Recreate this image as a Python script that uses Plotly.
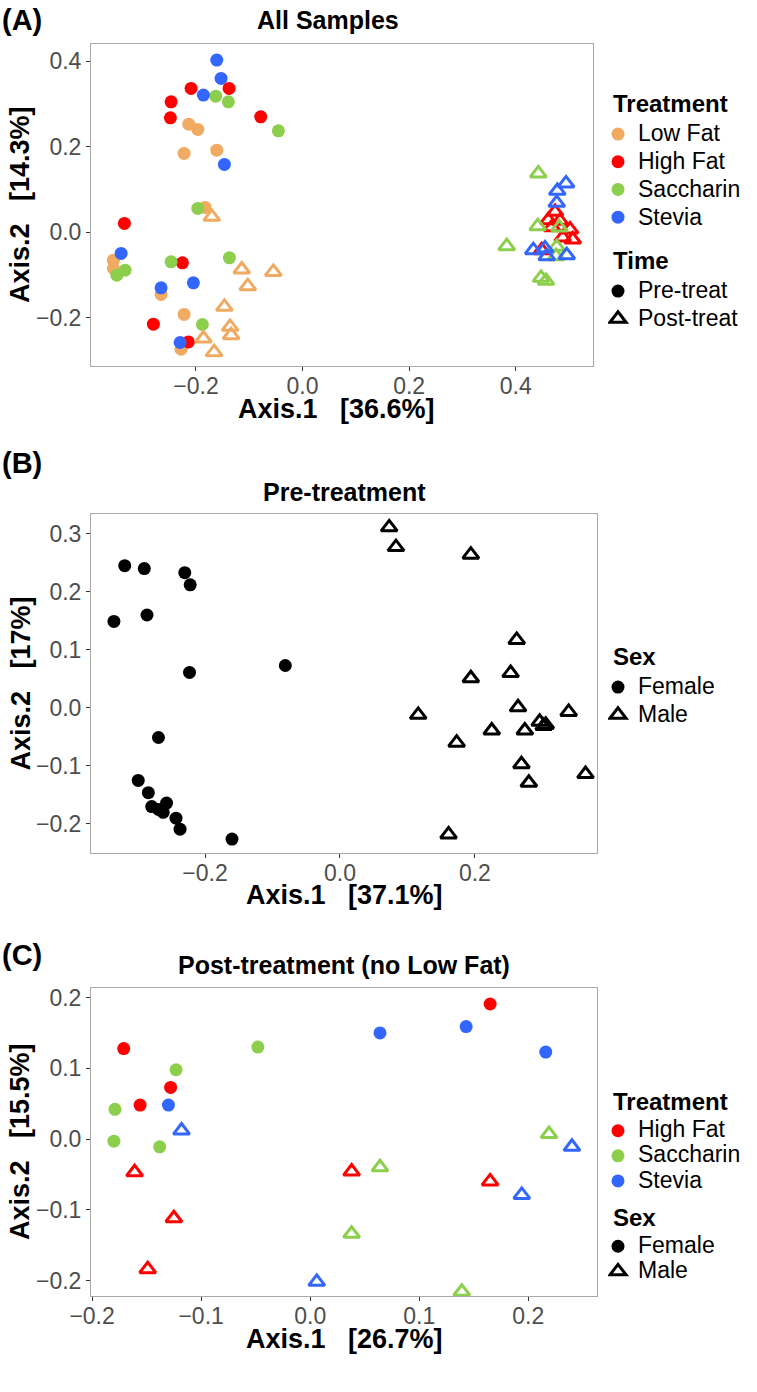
import plotly.graph_objects as go

# ---------------- Panel A data (All Samples) ----------------
a_lowfat_pre_x = [-0.2135, -0.1966, -0.2223, -0.1610, -0.1829, -0.3550, -0.3550, -0.2655, -0.2223, -0.2280]
a_lowfat_pre_y = [0.2526, 0.2402, 0.1841, 0.1918, 0.0578, -0.0655, -0.0849, -0.1457, -0.1925, -0.2737]
a_highfat_pre_x = [-0.2092, -0.1379, -0.2467, -0.2480, -0.0784, -0.3343, -0.2255, -0.2799, -0.2143]
a_highfat_pre_y = [0.3361, 0.3361, 0.3048, 0.2674, 0.2697, 0.0204, -0.0718, -0.2152, -0.2566]
a_sacch_pre_x = [-0.1629, -0.1392, -0.0454, -0.1966, -0.3330, -0.3486, -0.2467, -0.1373, -0.1880]
a_sacch_pre_y = [0.3181, 0.3048, 0.2370, 0.0554, -0.0889, -0.1006, -0.0695, -0.0601, -0.2159]
a_stevia_pre_x = [-0.1610, -0.1529, -0.1861, -0.1467, -0.3405, -0.2049, -0.2655, -0.2298]
a_stevia_pre_y = [0.4023, 0.3595, 0.3205, 0.1584, -0.0498, -0.1186, -0.1303, -0.2580]

a_lowfat_post_x = [-0.1704, -0.1141, -0.0548, -0.1028, -0.1467, -0.1360, -0.1341, -0.1861, -0.1660]
a_lowfat_post_y = [0.0358, -0.0873, -0.0929, -0.1263, -0.1747, -0.2215, -0.2409, -0.2487, -0.2807]
a_highfat_post_x = [0.4737, 0.4612, 0.4831, 0.5019, 0.4882, 0.5069, 0.4488, 0.4681]
a_highfat_post_y = [0.0475, 0.0281, 0.0264, 0.0063, -0.0124, -0.0171, -0.0421, 0.0117]
a_sacch_post_x = [0.4424, 0.4413, 0.4818, 0.3831, 0.4769, 0.4756, 0.4475, 0.4568]
a_sacch_post_y = [0.1373, 0.0140, 0.0110, -0.0327, -0.0344, -0.0561, -0.1069, -0.1139]
a_stevia_post_x = [0.4944, 0.4780, 0.4769, 0.4330, 0.4550, 0.4582, 0.4957]
a_stevia_post_y = [0.1139, 0.0966, 0.0685, -0.0421, -0.0381, -0.0561, -0.0538]

# ---------------- Panel B data (Pre-treatment, by sex) ----------------
b_female_x = [-0.319, -0.290, -0.230, -0.222, -0.335, -0.286, -0.223, -0.081, -0.269,
              -0.299, -0.284, -0.279, -0.257, -0.262, -0.269, -0.243, -0.237, -0.160]
b_female_y = [0.245, 0.240, 0.233, 0.212, 0.149, 0.160, 0.061, 0.073, -0.051,
              -0.125, -0.146, -0.170, -0.164, -0.180, -0.175, -0.190, -0.209, -0.226]
b_male_x = [0.073, 0.083, 0.194, 0.262, 0.253, 0.194, 0.264, 0.116, 0.339, 0.296,
            0.305, 0.302, 0.225, 0.274, 0.173, 0.269, 0.364, 0.280, 0.161]
b_male_y = [0.311, 0.277, 0.264, 0.117, 0.060, 0.051, 0.001, -0.012, -0.007, -0.024,
            -0.029, -0.031, -0.039, -0.039, -0.060, -0.097, -0.114, -0.129, -0.218]

# ---------------- Panel C data (Post-treatment, no Low Fat) ----------------
c_highfat_f_x = [-0.171, -0.128, -0.156, 0.165]
c_highfat_f_y = [0.128, 0.073, 0.048, 0.191]
c_sacch_f_x = [-0.048, -0.123, -0.179, -0.180, -0.138]
c_sacch_f_y = [0.130, 0.098, 0.042, -0.003, -0.011]
c_stevia_f_x = [-0.130, 0.143, 0.064, 0.216]
c_stevia_f_y = [0.048, 0.159, 0.150, 0.123]
c_highfat_m_x = [-0.161, -0.125, -0.149, 0.038, 0.165]
c_highfat_m_y = [-0.047, -0.112, -0.184, -0.046, -0.060]
c_sacch_m_x = [0.064, 0.219, 0.038, 0.139]
c_sacch_m_y = [-0.040, 0.007, -0.134, -0.216]
c_stevia_m_x = [-0.118, 0.240, 0.194, 0.006]
c_stevia_m_y = [0.012, -0.011, -0.079, -0.202]

treatments = ["Low Fat", "High Fat", "Saccharin", "Stevia"]
colors = {"Low Fat": "#F0AA62", "High Fat": "#FF0000", "Saccharin": "#8CCF4D", "Stevia": "#3366FF"}

W, H = 757, 1392
FONT = "Liberation Sans, Arial, sans-serif"


def circ(color):
    return dict(symbol="circle", size=13, color=color, line=dict(width=0))


def tri(color):
    return dict(symbol="triangle-up-open", size=14, color=color, line=dict(width=3, color=color))


fig = go.Figure()

# Panel A
a_pre = [(a_lowfat_pre_x, a_lowfat_pre_y, "Low Fat"), (a_highfat_pre_x, a_highfat_pre_y, "High Fat"),
         (a_sacch_pre_x, a_sacch_pre_y, "Saccharin"), (a_stevia_pre_x, a_stevia_pre_y, "Stevia")]
a_post = [(a_lowfat_post_x, a_lowfat_post_y, "Low Fat"), (a_highfat_post_x, a_highfat_post_y, "High Fat"),
          (a_sacch_post_x, a_sacch_post_y, "Saccharin"), (a_stevia_post_x, a_stevia_post_y, "Stevia")]
for xs, ys, t in a_pre:
    fig.add_trace(go.Scatter(x=xs, y=ys, mode="markers", marker=circ(colors[t]), showlegend=False,
                             xaxis="x", yaxis="y", hoverinfo="skip"))
for xs, ys, t in a_post:
    fig.add_trace(go.Scatter(x=xs, y=ys, mode="markers", marker=tri(colors[t]), showlegend=False,
                             xaxis="x", yaxis="y", hoverinfo="skip"))

# Panel B
fig.add_trace(go.Scatter(x=b_female_x, y=b_female_y, mode="markers", marker=circ("black"),
                         showlegend=False, xaxis="x2", yaxis="y2"))
fig.add_trace(go.Scatter(x=b_male_x, y=b_male_y, mode="markers", marker=tri("black"),
                         showlegend=False, xaxis="x2", yaxis="y2"))

# Panel C
for xs, ys, t in [(c_highfat_f_x, c_highfat_f_y, "High Fat"), (c_sacch_f_x, c_sacch_f_y, "Saccharin"),
                  (c_stevia_f_x, c_stevia_f_y, "Stevia")]:
    fig.add_trace(go.Scatter(x=xs, y=ys, mode="markers", marker=circ(colors[t]), showlegend=False,
                             xaxis="x3", yaxis="y3"))
for xs, ys, t in [(c_highfat_m_x, c_highfat_m_y, "High Fat"), (c_sacch_m_x, c_sacch_m_y, "Saccharin"),
                  (c_stevia_m_x, c_stevia_m_y, "Stevia")]:
    fig.add_trace(go.Scatter(x=xs, y=ys, mode="markers", marker=tri(colors[t]), showlegend=False,
                             xaxis="x3", yaxis="y3"))

LEG_TEXT = 23      # visible size of legend labels


def leg_item(name, marker, legend, group, gtitle, xa, ya):
    fig.add_trace(go.Scatter(x=[None], y=[None], mode="markers", marker=marker,
                             name='<span style="font-size:%dpx">%s</span>' % (LEG_TEXT, name),
                             legend=legend, legendgroup=group,
                             legendgrouptitle=dict(text="<b>%s</b>" % gtitle,
                                                   font=dict(size=LEG_TEXT + 1, color="black")),
                             xaxis=xa, yaxis=ya, showlegend=True))


for t in treatments:
    leg_item(t, circ(colors[t]), "legend", "treat", "Treatment", "x", "y")
leg_item("Pre-treat", circ("black"), "legend", "time", "Time", "x", "y")
leg_item("Post-treat", tri("black"), "legend", "time", "Time", "x", "y")

leg_item("Female", circ("black"), "legend2", "sex", "Sex", "x2", "y2")
leg_item("Male", tri("black"), "legend2", "sex", "Sex", "x2", "y2")

for t in treatments[1:]:
    leg_item(t, circ(colors[t]), "legend3", "treat", "Treatment", "x3", "y3")
leg_item("Female", circ("black"), "legend3", "sex", "Sex", "x3", "y3")
leg_item("Male", tri("black"), "legend3", "sex", "Sex", "x3", "y3")


def px2x(p):
    return p / W


def px2y(p):
    return 1 - p / H


axis_common = dict(showgrid=False, zeroline=False, showline=True, mirror=True, linecolor="#A8A8A8",
                   linewidth=1, ticks="outside", ticklen=4, tickcolor="#333333", tickwidth=1,
                   tickfont=dict(size=23, color="#4D4D4D", family=FONT), tickformat=".1f",
                   automargin=False)
xaxis_extra = dict(ticklabelstandoff=-5)

# panel pixel boxes (left, right, top, bottom)
boxA = (91, 593, 44, 366)
boxB = (91, 597, 514, 853)
boxC = (91, 597, 988, 1296)

layout = dict(
    width=W, height=H, margin=dict(l=0, r=0, t=0, b=0, autoexpand=False),
    paper_bgcolor="white", plot_bgcolor="white",
    font=dict(family=FONT, color="black"),
    xaxis=dict(axis_common, **xaxis_extra, domain=[px2x(boxA[0]), px2x(boxA[1])], range=[-0.397, 0.545],
               tickvals=[-0.2, 0.0, 0.2, 0.4], anchor="y"),
    yaxis=dict(axis_common, domain=[px2y(boxA[3]), px2y(boxA[2])], range=[-0.313, 0.44],
               tickvals=[-0.2, 0.0, 0.2, 0.4], anchor="x"),
    xaxis2=dict(axis_common, **xaxis_extra, domain=[px2x(boxB[0]), px2x(boxB[1])], range=[-0.369, 0.381],
                tickvals=[-0.2, 0.0, 0.2], anchor="y2"),
    yaxis2=dict(axis_common, domain=[px2y(boxB[3]), px2y(boxB[2])], range=[-0.25, 0.334],
                tickvals=[-0.2, -0.1, 0.0, 0.1, 0.2, 0.3], anchor="x2"),
    xaxis3=dict(axis_common, **xaxis_extra, domain=[px2x(boxC[0]), px2x(boxC[1])], range=[-0.201, 0.263],
                tickvals=[-0.2, -0.1, 0.0, 0.1, 0.2], anchor="y3"),
    yaxis3=dict(axis_common, domain=[px2y(boxC[3]), px2y(boxC[2])], range=[-0.222, 0.2136],
                tickvals=[-0.2, -0.1, 0.0, 0.1, 0.2], anchor="x3"),
    showlegend=True,
)

leg_common = dict(xanchor="left", yanchor="top", bgcolor="rgba(0,0,0,0)", borderwidth=0,
                  itemwidth=30, indentation=-10, itemclick=False, itemdoubleclick=False)
layout["legend"] = dict(leg_common, x=px2x(608), y=px2y(81), tracegroupgap=12,
                        font=dict(size=19, color="black", family=FONT))
layout["legend2"] = dict(leg_common, x=px2x(608), y=px2y(634), tracegroupgap=12,
                         font=dict(size=19, color="black", family=FONT))
layout["legend3"] = dict(leg_common, x=px2x(608), y=px2y(1079), tracegroupgap=6,
                         font=dict(size=17, color="black", family=FONT))

fig.update_layout(**layout)

annotations = []


def ann(text, x, y, size, rot=0, xanchor="center"):
    annotations.append(dict(text=text, x=px2x(x), y=px2y(y), xref="paper", yref="paper",
                            showarrow=False, font=dict(size=size, color="black", family=FONT),
                            textangle=rot, xanchor=xanchor, yanchor="middle"))


# panel tags
ann("<b>(A)</b>", 0, 20, 29, xanchor="left")
ann("<b>(B)</b>", 0, 463, 29, xanchor="left")
ann("<b>(C)</b>", 0, 955, 29, xanchor="left")
# titles
ann("<b>All Samples</b>", 328, 20, 25)
ann("<b>Pre-treatment</b>", (boxB[0] + boxB[1]) / 2, 492, 25)
ann("<b>Post-treatment (no Low Fat)</b>", (boxC[0] + boxC[1]) / 2, 965, 25)
# axis titles
ann("<b>Axis.1   [36.6%]</b>", (boxA[0] + boxA[1]) / 2 - 6, 409, 27)
ann("<b>Axis.1   [37.1%]</b>", (boxB[0] + boxB[1]) / 2, 895, 27)
ann("<b>Axis.1   [26.7%]</b>", (boxC[0] + boxC[1]) / 2, 1339, 27)
ann("<b>Axis.2   [14.3%]</b>", 20, (boxA[2] + boxA[3]) / 2, 27, rot=-90)
ann("<b>Axis.2   [17%]</b>", 20, (boxB[2] + boxB[3]) / 2, 27, rot=-90)
ann("<b>Axis.2   [15.5%]</b>", 20, (boxC[2] + boxC[3]) / 2, 27, rot=-90)

fig.update_layout(annotations=annotations)

fig.write_html("out.html", config={"displayModeBar": False},
               post_script="document.body.style.margin='0px';document.body.style.padding='0px';")
